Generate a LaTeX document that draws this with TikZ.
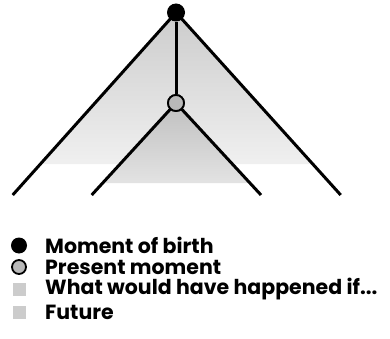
\documentclass[tikz,border=0pt]{standalone}
\usepackage{fontspec}
\setmainfont{Poppins}
\begin{document}
\begin{tikzpicture}[x=1pt,y=-1pt,
  branch/.style={line width=3pt,line cap=butt},
  birth/.style={circle,fill=black,inner sep=0pt,minimum size=18pt},
  present/.style={circle,fill=gray!55,draw=black,line width=1.8pt,inner sep=0pt,minimum size=16pt},
  sq/.style={fill=gray!40,inner sep=0pt,minimum size=13pt},
  legtext/.style={anchor=west,font=\fontsize{20.5}{20.5}\selectfont\bfseries,inner sep=0pt}]
\useasboundingbox (0,0) rectangle (390,339);
% shaded regions
\shade[top color=gray!40,bottom color=gray!12] (176,12) -- (40.5,164) -- (312.5,164) -- cycle;
\shade[top color=gray!50,bottom color=gray!22] (176,103) -- (103,183) -- (250,183) -- cycle;
% coordinates
\coordinate (ol) at (12.7,195);
\coordinate (or) at (340.7,195);
\coordinate (il) at (91.7,195);
\coordinate (ir) at (261,195);
\node[birth] (b) at (176,12.5) {};
\node[present] (p) at (176,103) {};
\draw[branch] (b.center) -- (ol);
\draw[branch] (b.center) -- (or);
\draw[branch] (b) -- (p);
\draw[branch] (p.center) -- (il);
\draw[branch] (p.center) -- (ir);
\node[present] at (176,103) {};
% legend
\node[birth,minimum size=16pt] (l1) at (19,245.5) {};
\node[present,minimum size=14pt] (l2) at (19,267) {};
\node[sq] (l3) at (19,289.5) {};
\node[sq] (l4) at (19,312) {};
\node[legtext] (t1) at (45,245.5) {Moment of birth};
\node[legtext] (t2) at (45,267) {Present moment};
\node[legtext] (t3) at (45,289.5) {What would have happened if...};
\node[legtext] (t4) at (45,312) {Future};
\end{tikzpicture}
\end{document}
